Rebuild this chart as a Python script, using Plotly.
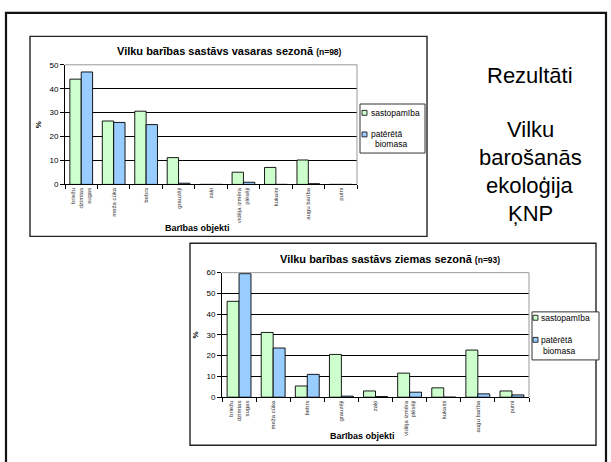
import plotly.graph_objects as go

W, H = 611, 462

categories = ["briežu<br>dzimtas<br>sugas", "meža cūka", "bebrs", "grauzēji", "zaķi",
              "vidēja izmēra<br>plēsēji", "kukaiņi", "augu barība", "putni"]
series_names = ["sastopamība", "patērētā biomasa"]
summer_occurrence = [44.0, 26.5, 30.6, 11.2, 0.0, 5.1, 7.1, 10.2, 0.0]
summer_biomass = [47.0, 25.9, 25.0, 0.5, 0.0, 0.9, 0.0, 0.3, 0.0]
winter_occurrence = [46.2, 31.2, 5.4, 20.6, 3.0, 11.6, 4.5, 22.7, 3.0]
winter_biomass = [59.5, 23.7, 11.0, 0.5, 0.3, 2.4, 0.0, 1.6, 1.1]
summer_title = "Vilku barības sastāvs vasaras sezonā"
summer_n = "(n=98)"
winter_title = "Vilku barības sastāvs ziemas sezonā"
winter_n = "(n=93)"
x_title = "Barības objekti"
y_title = "%"
side_title = "Rezultāti"
side_text = ["Vilku", "barošanās", "ekoloģija", "ĶNP"]

GREEN = "#CCFFCC"
BLUE = "#99CCFF"
FONT = "Liberation Sans, Arial, sans-serif"


def fx(px):
    return px / W


def fy(py):
    return 1 - py / H


fig = go.Figure()
for ys, col, name, xa, ya in [
    (summer_occurrence, GREEN, series_names[0], "x", "y"),
    (summer_biomass, BLUE, series_names[1], "x", "y"),
    (winter_occurrence, GREEN, series_names[0], "x2", "y2"),
    (winter_biomass, BLUE, series_names[1], "x2", "y2"),
]:
    fig.add_trace(go.Bar(x=categories, y=ys, name=name, xaxis=xa, yaxis=ya,
                         marker=dict(color=col, line=dict(color="#000000", width=0.9)),
                         showlegend=False))

xcommon = dict(type="category", showline=True, linecolor="#000", linewidth=1,
               ticks="outside", tickson="boundaries", ticklen=4, tickcolor="#000",
               tickangle=-90, tickfont=dict(size=6, color="#333", family=FONT),
               showgrid=False, zeroline=False, fixedrange=True)
ycommon = dict(showline=True, linecolor="#000", linewidth=1, ticks="outside",
               ticklen=4, tickcolor="#000", dtick=10,
               tickfont=dict(size=8, color="#000", family=FONT),
               showgrid=True, gridcolor="#000", gridwidth=0.8, zeroline=False, fixedrange=True,
               title=dict(text="<b>" + y_title + "</b>", font=dict(size=8, family=FONT, color="#000"), standoff=6))

# plot areas (pixels)
top_plot = dict(x0=65, x1=357, y0=62, y1=184)
bot_plot = dict(x0=222, x1=529, y0=274, y1=401)

fig.update_layout(
    width=W, height=H, autosize=False,
    margin=dict(l=0, r=0, t=0, b=0),
    paper_bgcolor="white", plot_bgcolor="white",
    barmode="group", bargap=0.3, bargroupgap=0.0,
    font=dict(family=FONT, color="#000"),
    xaxis=dict(xcommon, domain=[fx(top_plot["x0"]), fx(top_plot["x1"])], anchor="y"),
    yaxis=dict(ycommon, domain=[fy(top_plot["y1"]), fy(top_plot["y0"])], anchor="x", range=[0, 50]),
    xaxis2=dict(xcommon, domain=[fx(bot_plot["x0"]), fx(bot_plot["x1"])], anchor="y2"),
    yaxis2=dict(ycommon, domain=[fy(bot_plot["y1"]), fy(bot_plot["y0"])], anchor="x2", range=[0, 60]),
)

shapes = []
# outer slide frame
shapes.append(dict(type="rect", xref="paper", yref="paper", x0=fx(6), x1=fx(606), y0=fy(470), y1=fy(9),
                   line=dict(color="#111", width=2.2), fillcolor="rgba(0,0,0,0)", layer="above"))
# chart boxes
for (x0, y0, x1, y1) in [(30, 33, 427, 237), (190, 244, 596, 450)]:
    shapes.append(dict(type="rect", xref="paper", yref="paper", x0=fx(x0), x1=fx(x1), y0=fy(y1), y1=fy(y0),
                       line=dict(color="#222", width=1.4), fillcolor="rgba(0,0,0,0)", layer="below"))
# plot area top/right gray border
for xr, yr in [("x", "y"), ("x2", "y2")]:
    shapes.append(dict(type="line", xref=xr + " domain", yref=yr + " domain", x0=0, x1=1, y0=1, y1=1,
                       line=dict(color="#999", width=1), layer="above"))
    shapes.append(dict(type="line", xref=xr + " domain", yref=yr + " domain", x0=1, x1=1, y0=0, y1=1,
                       line=dict(color="#999", width=1), layer="above"))

annotations = []


def add_legend(box, sw_x, rows, text_x):
    x0, y0, x1, y1 = box
    shapes.append(dict(type="rect", xref="paper", yref="paper", x0=fx(x0), x1=fx(x1), y0=fy(y1), y1=fy(y0),
                       line=dict(color="#333", width=1), fillcolor="white", layer="above"))
    for (cy, col, lines) in rows:
        shapes.append(dict(type="rect", xref="paper", yref="paper", x0=fx(sw_x), x1=fx(sw_x + 5),
                           y0=fy(cy + 2.5), y1=fy(cy - 2.5), line=dict(color="#000", width=0.8),
                           fillcolor=col, layer="above"))
        for i, (t, dx, ly) in enumerate(lines):
            annotations.append(dict(text=t, xref="paper", yref="paper", x=fx(text_x + dx), y=fy(ly),
                                    xanchor="left", yanchor="middle", showarrow=False,
                                    font=dict(size=8.5, family=FONT, color="#000")))


add_legend((360, 102, 425, 152), 362,
           [(111, GREEN, [("sastopamība", 0, 111)]),
            (133, BLUE, [("patērētā", 0, 133), ("biomasa", 5, 143)])], 368.5)
add_legend((532, 314, 599, 363), 533,
           [(320, GREEN, [("sastopamība", 0, 320)]),
            (342.5, BLUE, [("patērētā", 0, 342.5), ("biomasa", 2.5, 354)])], 538.5)

# chart titles
for t, n, cx, cy in [(summer_title, summer_n, 229.5, 48), (winter_title, winter_n, 390, 260)]:
    annotations.append(dict(text="<b>" + t + "</b> <b><span style='font-size:8.5px'>" + n + "</span></b>",
                            xref="paper", yref="paper", x=fx(cx), y=fy(cy), xanchor="center", yanchor="middle",
                            showarrow=False, font=dict(size=11, family=FONT, color="#000")))
# x axis titles
for cx, cy in [(198, 228), (362, 441)]:
    annotations.append(dict(text="<b>" + x_title + "</b>", xref="paper", yref="paper", x=fx(cx), y=fy(cy),
                            xanchor="center", yanchor="middle", showarrow=False,
                            font=dict(size=9, family=FONT, color="#000")))
# side text
annotations.append(dict(text=side_title, xref="paper", yref="paper", x=fx(530), y=fy(73),
                        xanchor="center", yanchor="middle", showarrow=False,
                        font=dict(size=22, family=FONT, color="#000")))
for i, t in enumerate(side_text):
    annotations.append(dict(text=t, xref="paper", yref="paper", x=fx(530), y=fy(128 + i * 28.5),
                            xanchor="center", yanchor="middle", showarrow=False,
                            font=dict(size=22, family=FONT, color="#000")))

fig.update_layout(shapes=shapes, annotations=annotations)
fig.write_html("out.html", config={"displayModeBar": False},
               post_script="document.body.style.margin='0px';document.body.style.overflow='hidden';")
